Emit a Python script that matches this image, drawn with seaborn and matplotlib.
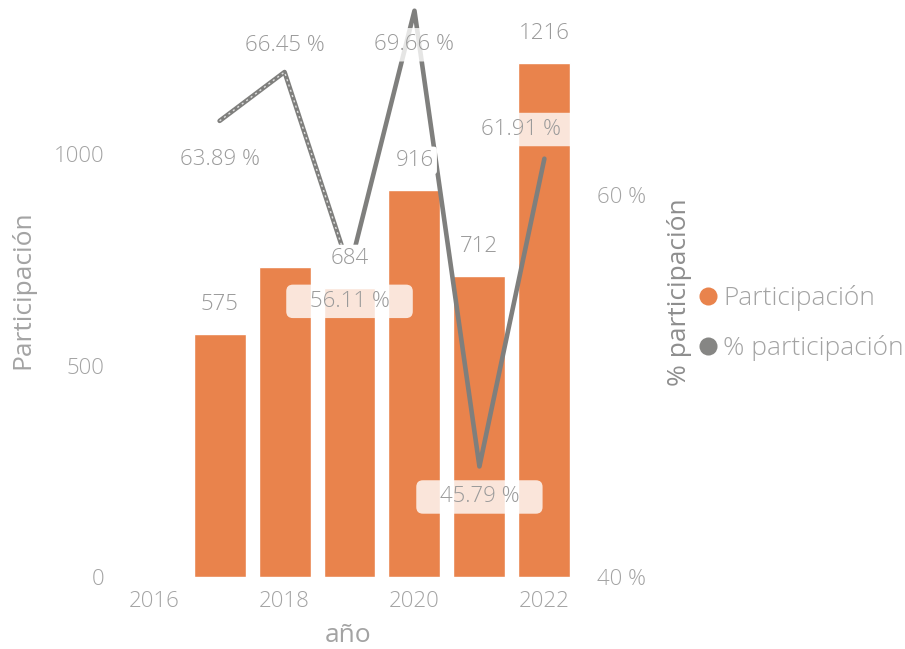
import matplotlib
matplotlib.use("Agg")
import matplotlib.pyplot as plt
from matplotlib.lines import Line2D
from matplotlib.patches import BoxStyle
import seaborn as sns
import pandas as pd

# Data
years = [2017, 2018, 2019, 2020, 2021, 2022]
participacion = [575, 733, 684, 916, 712, 1216]
pct_participacion = [63.89, 66.45, 56.11, 69.66, 45.79, 61.91]
bar_labels = ["575", "", "684", "916", "712", "1216"]
pct_labels = ["63.89 %", "66.45 %", "56.11 %", "69.66 %", "45.79 %", "61.91 %"]
left_ticks = [0, 500, 1000]
right_ticks = [40, 60]
right_tick_labels = ["40 %", "60 %"]
x_ticks = [2016, 2018, 2020, 2022]

ORANGE = "#E9834C"
GRAY_LINE = "#7F7F7D"
TEXT = "#A3A3A3"
LABEL_TEXT = "#9A9A9A"

sns.set_theme(style="white")
plt.rcParams["font.family"] = ["Open Sans", "DejaVu Sans"]
plt.rcParams["font.weight"] = "light"

df = pd.DataFrame({"año": years,
                   "Participación": participacion,
                   "% participación": pct_participacion})


def label_box(x0, y0, width, height, mutation_size):
    """Rounded box that is wider than tall around a data label."""
    padx = 1.05 * mutation_size
    pady = 0.28 * mutation_size
    base = BoxStyle("round", pad=0, rounding_size=0.3)
    return base(x0 - padx, y0 - pady, width + 2 * padx, height + 2 * pady,
                mutation_size)


fig = plt.figure(figsize=(9.05, 6.49), dpi=100)
ax = fig.add_axes([0.135, 0.111, 0.506, 0.881])

sns.barplot(data=df, x="año", y="Participación", native_scale=True,
            color=ORANGE, saturation=1, width=0.8, ax=ax, zorder=1)
ax.set_ylim(0, 1352)
ax.set_xticks(x_ticks)
ax.set_xticklabels([str(t) for t in x_ticks])
ax.set_yticks(left_ticks)
ax.set_yticklabels([str(t) for t in left_ticks])
ax.tick_params(axis="both", length=0, labelsize=16, labelcolor=TEXT)
ax.tick_params(axis="y", pad=13)
ax.tick_params(axis="x", pad=10)
for s in ax.spines.values():
    s.set_visible(False)

ax2 = ax.twinx()
sns.lineplot(data=df, x="año", y="% participación", color=GRAY_LINE,
             linewidth=3.3, ax=ax2, legend=False)
# light stitched look on the first two segments
ax2.plot(years[:3], pct_participacion[:3], color="white", linewidth=1.0,
         linestyle=(0, (1.5, 2.5)), alpha=0.75)
ax2.set_ylim(40, 69.95)
ax2.set_yticks(right_ticks)
ax2.set_yticklabels(right_tick_labels)
ax2.tick_params(axis="y", length=0, labelsize=16, labelcolor=TEXT, pad=12)
for s in ax2.spines.values():
    s.set_visible(False)
ax.set_xlim(2015.5, 2022.55)

# axis titles
ax.set_xlabel("año", fontsize=19, color=TEXT, va="center")
ax.xaxis.set_label_coords(0.493, -0.103)
ax.set_ylabel("Participación", fontsize=19, color=TEXT, va="center")
ax.yaxis.set_label_coords(-0.216, 0.502)
ax2.set_ylabel("% participación", fontsize=19, color="#8E8E8E", va="center")
ax2.yaxis.set_label_coords(1.218, 0.498)

# value labels of the bars
for yr, val, lbl in zip(years, participacion, bar_labels):
    if not lbl:
        continue
    ax2.annotate(lbl, xy=(yr, val), xycoords=ax.transData,
                 xytext=(0, 21), textcoords="offset points",
                 ha="center", va="center", fontsize=16, color=LABEL_TEXT,
                 bbox=dict(boxstyle="round,pad=0.15", fc="white", ec="none"),
                 zorder=6)

# percentage labels of the line
pct_offsets = [(0, -28), (0, 19), (0, -23), (0, -24.5), (0, -22), (-16.5, 21)]
for yr, val, lbl, off in zip(years, pct_participacion, pct_labels, pct_offsets):
    ax2.annotate(lbl, xy=(yr, val), xytext=off, textcoords="offset points",
                 ha="center", va="center", fontsize=16, color=LABEL_TEXT,
                 bbox=dict(boxstyle=label_box, fc="white", ec="none",
                           alpha=0.8),
                 zorder=6)

# legend
handles = [
    Line2D([], [], marker="o", linestyle="none", markersize=13,
           markerfacecolor=ORANGE, markeredgecolor="none"),
    Line2D([], [], marker="o", linestyle="none", markersize=13,
           markerfacecolor="#868684", markeredgecolor="none"),
]
fig.legend(handles, ["Participación", "% participación"],
           loc="center left", bbox_to_anchor=(0.7678, 0.502),
           frameon=False, fontsize=19, labelcolor=TEXT,
           handlelength=1.0, handletextpad=0.08, labelspacing=0.9,
           borderpad=0, borderaxespad=0)

fig.savefig("out.png", dpi=100)
